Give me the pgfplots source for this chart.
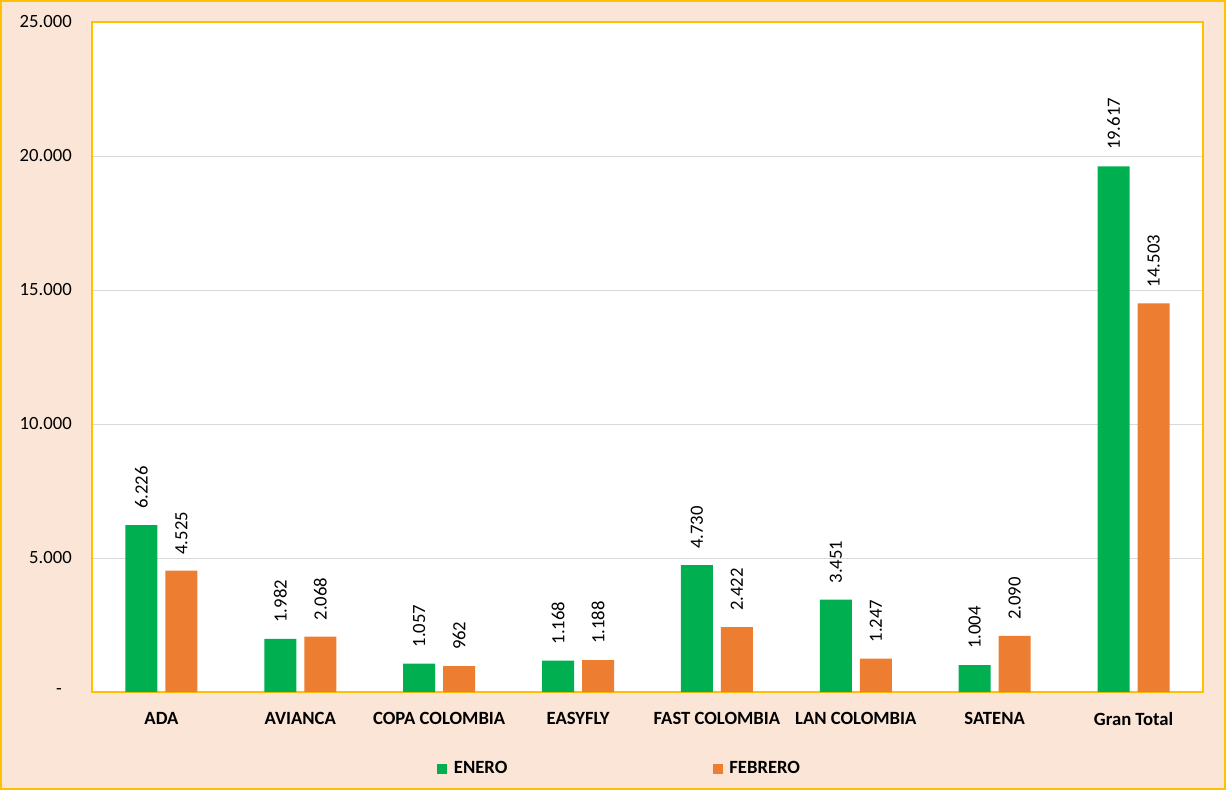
\documentclass[border=0pt]{standalone}
\usepackage{fontspec}
\setmainfont{Carlito}
\usepackage{pgfplots}
\pgfplotsset{compat=1.18}
\definecolor{bgpeach}{HTML}{FBE5D6}
\definecolor{gold}{HTML}{FFC000}
\definecolor{barg}{HTML}{00B050}
\definecolor{baro}{HTML}{ED7D31}
\definecolor{gridc}{HTML}{D9D9D9}
\begin{document}
\fontsize{14}{16}\selectfont
\begin{tikzpicture}
\fill[bgpeach] (0,0) rectangle (919.5pt,592.5pt);
\begin{axis}[
  at={(69pt,73.5pt)}, anchor=south west,
  scale only axis, width=833.25pt, height=502.5pt,
  axis background/.style={fill=white},
  axis line style={draw=gold, line width=1.5pt},
  ybar=6pt, bar width=24pt,
  xmin=-0.5, xmax=7.5, ymin=0, ymax=25000,
  scaled y ticks=false,
  xtick={0,...,7},
  xticklabels={ADA,AVIANCA,COPA COLOMBIA,EASYFLY,FAST COLOMBIA,LAN COLOMBIA,SATENA,Gran Total},
  ytick={0,5000,10000,15000,20000,25000},
  yticklabels={{-\hspace*{7.5pt}},5.000,10.000,15.000,20.000,25.000},
  major tick length=0pt,
  ymajorgrids, major grid style={draw=gridc, line width=0.75pt},
  tick label style={font=\fontsize{14}{16}\selectfont},
  yticklabel style={anchor=east, inner sep=0pt, xshift=-15pt},
  xticklabel style={anchor=north, inner sep=0pt, yshift=-15pt, font=\fontsize{14}{16}\selectfont\bfseries},
  nodes near coords,
  nodes near coords style={font=\fontsize{14}{16}\selectfont, text=black, anchor=west, inner sep=0pt, rotate=90, xshift=12pt,
    /pgf/number format/.cd, fixed, precision=0, 1000 sep={.}, assume math mode=true},
  legend columns=2,
  legend style={at={(0.3105,-0.1149)}, anchor=west, draw=none, fill=none, inner sep=0pt,
    font=\fontsize{14}{16}\selectfont\bfseries,
    /tikz/every odd column/.append style={column sep=3pt},
    /tikz/every even column/.append style={column sep=152pt}},
  legend image code/.code={\fill[#1] (0pt,-3.75pt) rectangle (7.5pt,3.75pt);},
  clip=false,
]
\addplot[fill=barg, draw=none] coordinates {(0,6226) (1,1982) (2,1057) (3,1168) (4,4730) (5,3451) (6,1004) (7,19617)};
\addplot[fill=baro, draw=none] coordinates {(0,4525) (1,2068) (2,962) (3,1188) (4,2422) (5,1247) (6,2090) (7,14503)};
\legend{ENERO,FEBRERO}
\end{axis}
\draw[gold, line width=1.5pt] (0.75pt,0.75pt) rectangle (918.75pt,591.75pt);
\end{tikzpicture}
\end{document}
